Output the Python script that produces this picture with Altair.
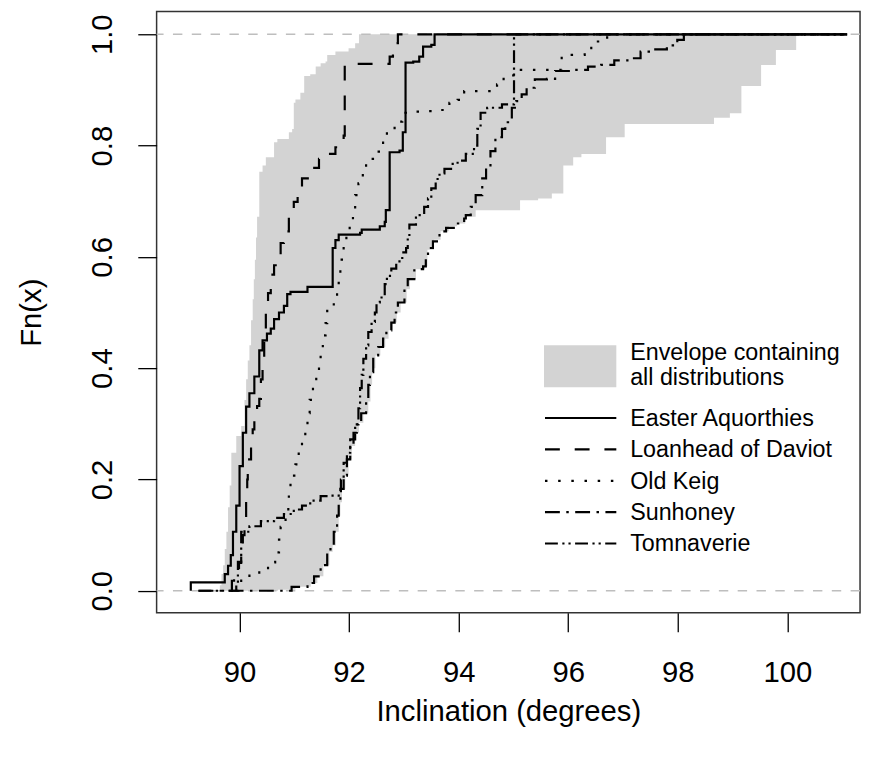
import altair as alt
import pandas as pd

FONT = "Liberation Sans"

# ---------------- data ----------------
# Each list: (inclination, Fn) break points of the empirical CDF
easter_aquorthies = [(89.11, 0.0), (89.11, 0.015), (89.73, 0.030), (89.79, 0.045), (89.84, 0.064),
    (89.88, 0.106), (89.94, 0.153), (90.00, 0.224), (90.06, 0.284), (90.12, 0.331),
    (90.18, 0.355), (90.27, 0.385), (90.36, 0.432), (90.42, 0.450), (90.50, 0.462),
    (90.57, 0.471), (90.63, 0.488), (90.72, 0.500), (90.81, 0.512), (90.87, 0.533),
    (90.93, 0.537), (91.24, 0.546), (91.70, 0.616), (91.75, 0.630), (91.81, 0.640),
    (92.20, 0.643), (92.23, 0.649), (92.56, 0.655), (92.65, 0.663), (92.67, 0.684),
    (92.74, 0.788), (92.92, 0.791), (92.98, 0.824), (93.03, 0.949), (93.17, 0.951),
    (93.28, 0.960), (93.35, 0.978), (93.50, 0.981), (93.56, 1.0), (101.09, 1.0)]

loanhead_of_daviot = [(89.84, 0.0), (89.86, 0.018), (89.90, 0.027), (89.94, 0.035), (89.99, 0.050),
    (90.03, 0.064), (90.06, 0.100), (90.09, 0.130), (90.12, 0.165), (90.14, 0.200),
    (90.15, 0.236), (90.21, 0.266), (90.24, 0.290), (90.27, 0.319), (90.32, 0.332),
    (90.36, 0.345), (90.39, 0.380), (90.42, 0.420), (90.45, 0.460), (90.48, 0.500),
    (90.52, 0.535), (90.57, 0.568), (90.63, 0.585), (90.69, 0.604), (90.75, 0.625),
    (90.81, 0.646), (90.90, 0.672), (90.99, 0.699), (91.06, 0.720), (91.14, 0.741),
    (91.30, 0.760), (91.45, 0.776), (91.63, 0.785), (91.75, 0.797), (91.84, 0.809),
    (91.90, 0.818), (91.92, 0.947), (92.74, 0.960), (92.80, 0.972), (92.83, 0.984),
    (92.89, 1.0), (101.09, 1.0)]

old_keig = [(89.95, 0.0), (89.98, 0.014), (90.03, 0.024), (90.18, 0.030), (90.36, 0.036),
    (90.52, 0.051), (90.65, 0.069), (90.72, 0.092), (90.75, 0.115), (90.84, 0.138),
    (90.89, 0.159), (90.90, 0.183), (90.93, 0.207), (91.02, 0.227), (91.08, 0.251),
    (91.14, 0.272), (91.20, 0.299), (91.24, 0.319), (91.28, 0.343), (91.34, 0.365),
    (91.40, 0.389), (91.45, 0.411), (91.48, 0.435), (91.52, 0.459), (91.57, 0.481),
    (91.60, 0.503), (91.72, 0.527), (91.78, 0.548), (91.81, 0.571), (91.84, 0.595),
    (91.90, 0.619), (91.95, 0.642), (92.01, 0.664), (92.07, 0.687), (92.11, 0.711),
    (92.17, 0.732), (92.25, 0.754), (92.31, 0.776), (92.49, 0.789), (92.62, 0.809),
    (92.69, 0.827), (92.83, 0.843), (92.97, 0.859), (93.16, 0.861), (93.41, 0.862),
    (93.65, 0.864), (93.83, 0.877), (93.98, 0.882), (94.10, 0.898), (94.70, 0.910),
    (94.82, 0.926), (95.00, 0.936), (95.88, 0.963), (96.30, 0.973), (96.42, 0.987),
    (96.63, 0.991), (96.71, 1.0), (101.09, 1.0)]

sunhoney = [(89.25, 0.0), (90.95, 0.007), (91.24, 0.014), (91.36, 0.026), (91.48, 0.046),
    (91.60, 0.070), (91.66, 0.082), (91.72, 0.106), (91.78, 0.135), (91.81, 0.159),
    (91.84, 0.183), (91.90, 0.207), (91.96, 0.236), (92.02, 0.260), (92.08, 0.284),
    (92.14, 0.302), (92.22, 0.319), (92.31, 0.340), (92.35, 0.370), (92.38, 0.393),
    (92.44, 0.423), (92.53, 0.438), (92.62, 0.453), (92.68, 0.468), (92.77, 0.482),
    (92.83, 0.500), (92.89, 0.518), (93.01, 0.542), (93.07, 0.560), (93.19, 0.578),
    (93.35, 0.583), (93.40, 0.600), (93.44, 0.616), (93.53, 0.628), (93.65, 0.646),
    (93.77, 0.652), (93.95, 0.660), (94.10, 0.669), (94.13, 0.675), (94.22, 0.690),
    (94.31, 0.711), (94.43, 0.741), (94.50, 0.760), (94.58, 0.790), (94.67, 0.815),
    (94.79, 0.830), (94.85, 0.842), (94.97, 0.868), (95.05, 0.880), (95.15, 0.892),
    (95.24, 0.904), (95.39, 0.919), (95.61, 0.920), (95.76, 0.934), (96.12, 0.936),
    (96.36, 0.942), (96.60, 0.945), (96.84, 0.953), (97.08, 0.957), (97.32, 0.969),
    (97.56, 0.973), (97.80, 0.980), (97.99, 0.990), (98.11, 1.0), (101.09, 1.0)]

tomnaverie = [(89.25, 0.0), (89.94, 0.011), (89.97, 0.052), (90.03, 0.106), (90.18, 0.116),
    (90.39, 0.125), (90.63, 0.131), (90.81, 0.138), (90.99, 0.146), (91.14, 0.153),
    (91.29, 0.162), (91.48, 0.170), (91.63, 0.171), (91.81, 0.177), (91.85, 0.200),
    (91.90, 0.230), (91.96, 0.248), (92.02, 0.272), (92.11, 0.299), (92.17, 0.328),
    (92.20, 0.364), (92.23, 0.388), (92.26, 0.417), (92.31, 0.441), (92.35, 0.465),
    (92.41, 0.483), (92.47, 0.500), (92.50, 0.518), (92.56, 0.527), (92.65, 0.551),
    (92.69, 0.566), (92.77, 0.579), (92.86, 0.592), (92.97, 0.608), (93.04, 0.616),
    (93.07, 0.637), (93.10, 0.658), (93.22, 0.675), (93.37, 0.690), (93.44, 0.705),
    (93.50, 0.723), (93.58, 0.740), (93.65, 0.750), (93.74, 0.758), (93.89, 0.767),
    (93.98, 0.773), (94.13, 0.785), (94.28, 0.800), (94.34, 0.830), (94.40, 0.859),
    (94.52, 0.868), (94.79, 0.874), (95.01, 1.0), (101.09, 1.0)]

# envelope containing all distributions: upper (left) and lower (right) boundaries
envelope_upper = [(89.64, 0.010), (89.67, 0.030), (89.70, 0.046), (89.73, 0.075), (89.76, 0.106),
    (89.79, 0.150), (89.82, 0.189), (89.85, 0.248), (89.94, 0.278), (90.03, 0.296),
    (90.09, 0.343), (90.12, 0.380), (90.15, 0.414), (90.18, 0.441), (90.21, 0.486),
    (90.24, 0.524), (90.26, 0.560), (90.28, 0.595), (90.30, 0.635), (90.32, 0.672),
    (90.36, 0.753), (90.42, 0.764), (90.48, 0.779), (90.63, 0.806), (90.69, 0.812),
    (90.90, 0.824), (90.96, 0.830), (90.99, 0.877), (91.02, 0.883), (91.11, 0.895),
    (91.18, 0.925), (91.29, 0.928), (91.39, 0.942), (91.48, 0.948), (91.57, 0.951),
    (91.60, 0.963), (91.75, 0.969), (91.99, 0.975), (92.11, 0.984), (92.18, 1.0)]

envelope_lower = [(89.11, 0.0), (90.70, 0.002), (91.02, 0.007), (91.30, 0.014), (91.42, 0.026),
    (91.53, 0.046), (91.64, 0.070), (91.70, 0.082), (91.76, 0.106), (91.81, 0.135),
    (91.84, 0.159), (91.87, 0.183), (91.93, 0.207), (91.99, 0.236), (92.05, 0.260),
    (92.11, 0.284), (92.18, 0.302), (92.26, 0.319), (92.35, 0.340), (92.39, 0.370),
    (92.42, 0.400), (92.48, 0.423), (92.57, 0.438), (92.66, 0.453), (92.72, 0.468),
    (92.80, 0.482), (92.87, 0.500), (92.94, 0.518), (93.05, 0.542), (93.11, 0.560),
    (93.22, 0.578), (93.38, 0.583), (93.43, 0.613), (93.55, 0.631), (93.67, 0.646),
    (93.82, 0.655), (93.97, 0.660), (94.12, 0.672), (94.31, 0.684), (95.12, 0.702),
    (95.45, 0.705), (95.70, 0.714), (95.91, 0.764), (96.09, 0.779), (96.24, 0.785),
    (96.69, 0.815), (97.03, 0.839), (98.66, 0.850), (98.95, 0.858), (99.16, 0.907),
    (99.52, 0.945), (99.79, 0.972), (100.16, 1.0)]

site_names = ["Easter Aquorthies", "Loanhead of Daviot", "Old Keig", "Sunhoney", "Tomnaverie"]
site_data = [easter_aquorthies, loanhead_of_daviot, old_keig, sunhoney, tomnaverie]
site_dash = [[1, 0], [15, 15], [2.5, 10.8], [15, 6.5, 2.5, 6.5], [13, 4.5, 2.2, 4, 2.2, 4.5]]

ref_levels = [0, 1]
x_ticks = [90, 92, 94, 96, 98, 100]
y_ticks = [0.0, 0.2, 0.4, 0.6, 0.8, 1.0]
x_title = "Inclination (degrees)"
y_title = "Fn(x)"
envelope_label = ["Envelope containing", "all distributions"]

# ---------------- tables ----------------
rows = []
for name, pts in zip(site_names, site_data):
    for xv, fv in pts:
        rows.append({"site": name, "x": xv, "F": fv})
lines_df = pd.DataFrame(rows)


def step_value(pts, x):
    v = 0.0
    for xi, fi in pts:
        if xi <= x + 1e-9:
            v = fi
        else:
            break
    return v


grid = sorted(set(p[0] for p in envelope_upper) | set(p[0] for p in envelope_lower))
grid = [g for g in grid if g >= envelope_upper[0][0]]
env_df = pd.DataFrame({
    "x": grid,
    "upper": [step_value(envelope_upper, g) for g in grid],
    "lower": [step_value(envelope_lower, g) for g in grid],
})

# ---------------- scales & axes ----------------
W, H = 710, 607
XS = alt.Scale(domain=[88.486, 101.326], nice=False, zero=False)
YS = alt.Scale(domain=[-0.0397, 1.041], nice=False, zero=False)

X_AXIS = alt.Axis(values=x_ticks, format="d", domain=False, grid=False, tickSize=19,
                  tickColor="black", tickWidth=1.3, labelFont=FONT, labelFontSize=29.5,
                  labelColor="black", labelPadding=41.5, labelBaseline="middle",
                  labelAlign="center", labelFlush=False, labelOverlap=False,
                  title=x_title, titleFont=FONT, titleFontSize=29.5, titleFontWeight="normal",
                  titleColor="black", titleY=100, titleBaseline="middle", titleAlign="center")
Y_AXIS = alt.Axis(values=y_ticks, format=".1f", domain=False, grid=False, tickSize=19,
                  tickColor="black", tickWidth=1.3, labelFont=FONT, labelFontSize=29.5,
                  labelColor="black", labelAngle=270, labelAlign="center",
                  labelBaseline="middle", labelPadding=35.8, labelFlush=False,
                  labelOverlap=False, title=y_title, titleFont=FONT, titleFontSize=29.5,
                  titleFontWeight="normal", titleColor="black", titleAngle=270,
                  titleX=-126.3, titleY=H / 2, titleAlign="center", titleBaseline="middle")


def xenc(field):
    return alt.X(field, type="quantitative", scale=XS, axis=X_AXIS)


def yenc(field):
    return alt.Y(field, type="quantitative", scale=YS, axis=Y_AXIS)


envelope = alt.Chart(env_df).mark_area(interpolate="step-after", color="#D3D3D3",
                                       opacity=1).encode(
    x=xenc("x"), y=yenc("upper"), y2="lower")

refs = alt.Chart(pd.DataFrame({"h": ref_levels})).mark_rule(
    color="#BEBEBE", strokeWidth=1.5, strokeDash=[9.5, 9.5]).encode(y=yenc("h"))

layers = [envelope, refs]
for name, dash in zip(site_names, site_dash):
    layers.append(
        alt.Chart(lines_df).transform_filter(alt.datum.site == name).mark_line(
            interpolate="step-after", color="black", strokeWidth=2.2, strokeDash=dash,
            clip=True).encode(x=xenc("x"), y=yenc("F"), order="x:Q"))

# ---------------- legend (drawn in pixel space of the plot) ----------------
dummy = pd.DataFrame({"k": [0]})
layers.append(alt.Chart(dummy).mark_rect(color="#D3D3D3").encode(
    x=alt.value(391), x2=alt.value(464), y=alt.value(337), y2=alt.value(379.3)))
for txt, yb in zip(envelope_label, [351.3, 377.0]):
    layers.append(alt.Chart(dummy).mark_text(text=txt, align="left", baseline="alphabetic",
                                             font=FONT, fontSize=23.5, color="black").encode(
        x=alt.value(478), y=alt.value(yb)))
line_ys = [410.3, 442.0, 473.7, 505.3, 537.0]
for name, dash, yl in zip(site_names, site_dash, line_ys):
    layers.append(alt.Chart(dummy).mark_rule(color="black", strokeWidth=2.2,
                                             strokeDash=dash).encode(
        x=alt.value(392), x2=alt.value(464), y=alt.value(yl)))
    layers.append(alt.Chart(dummy).mark_text(text=name, align="left", baseline="alphabetic",
                                             font=FONT, fontSize=23.5, color="black").encode(
        x=alt.value(478), y=alt.value(yl + 8.0)))

chart = alt.layer(*layers).properties(
    width=W, height=H,
    autosize=alt.AutoSizeParams(type="none"),
    padding={"left": 150, "top": 0, "right": 4, "bottom": 145},
    background="white",
).configure_view(stroke="#333333", strokeWidth=1.5)

chart.save("out.html", embed_options={"renderer": "svg", "actions": False})
